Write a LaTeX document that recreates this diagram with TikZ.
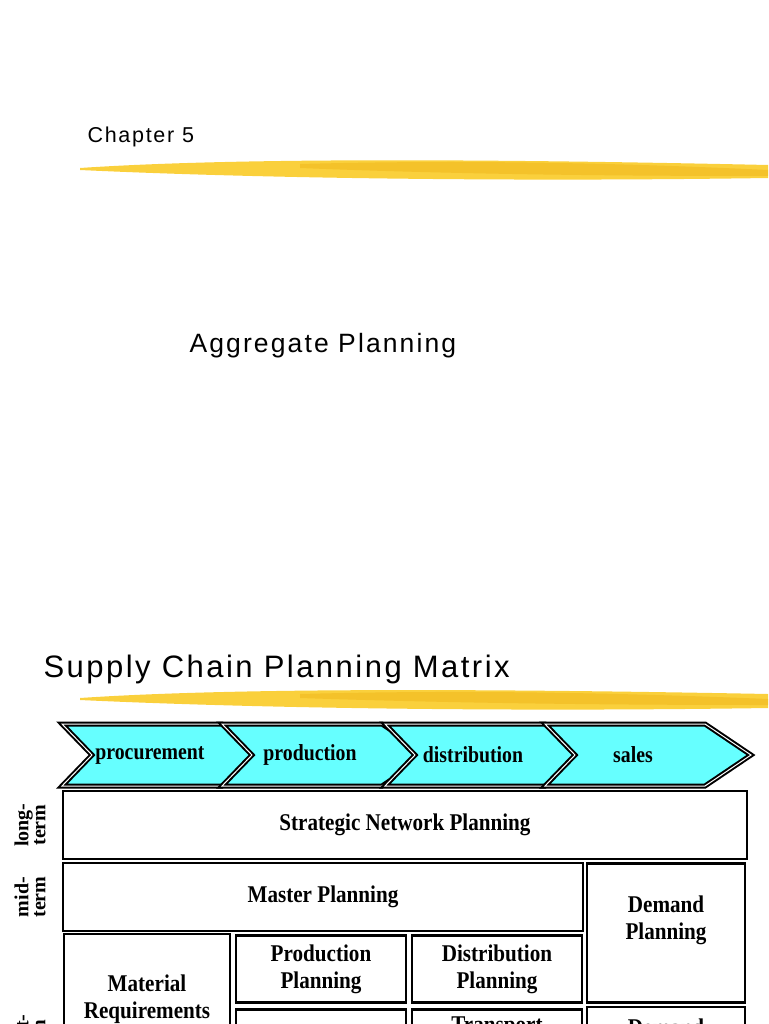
\documentclass[tikz,border=0pt]{standalone}
\usepackage{fontspec}
\setmainfont{Liberation Serif}
\newfontfamily\ttl[LetterSpace=8]{Liberation Sans}
\definecolor{chevc}{RGB}{102,255,255}
\definecolor{gold}{RGB}{250,208,60}
\definecolor{gold2}{RGB}{240,185,30}
\begin{document}
\begin{tikzpicture}[x=1pt,y=-1pt,
 box/.style={draw,line width=2.2pt,font=\bfseries\fontsize{24}{27}\selectfont,align=center,xscale=0.88},
 chev/.style={draw,line width=2pt,fill=chevc,double=white,double distance=1pt},
 lbl/.style={font=\bfseries\fontsize{20}{17}\selectfont,rotate=90,align=center},
 brush/.style={fill=gold,draw=none}]
\useasboundingbox (0,0) rectangle (768,1024);
\clip (0,0) rectangle (768,1024);
\node[anchor=west,font=\ttl\fontsize{21.5}{21}\selectfont] (ch) at (84,137) {Chapter 5};
\fill[brush] (80,168) .. controls (200,160) and (400,157) .. (768,165) -- (768,178) .. controls (500,182) and (250,178) .. (80,170) -- cycle;
\fill[gold2,opacity=.6] (300,164) .. controls (450,160) and (600,162) .. (768,170) -- (768,176) .. controls (600,176) and (450,174) .. (300,168) -- cycle;
\node[anchor=west,font=\ttl\fontsize{26.5}{26}\selectfont] (ap) at (186,346) {Aggregate Planning};
\node[anchor=west,font=\ttl\fontsize{31}{31}\selectfont] (sc) at (40,669) {Supply Chain Planning Matrix};
\fill[brush] (80,698) .. controls (200,690) and (400,687) .. (768,694) -- (768,708) .. controls (500,712) and (250,708) .. (80,700) -- cycle;
\fill[gold2,opacity=.6] (300,694) .. controls (450,690) and (600,692) .. (768,699) -- (768,705) .. controls (600,705) and (450,703) .. (300,698) -- cycle;
% chevrons
\foreach \x in {62,222,385,545}{
 \filldraw[chev] (\x,724) -- (\x+160,724) -- (\x+206,755) -- (\x+160,786) -- (\x,786) -- (\x+30,755) -- cycle;
}
\foreach \x/\t/\n in {62/procurement/c1,222/production/c2,385/distribution/c3,545/sales/c4}{
 \node[font=\bfseries\fontsize{23}{23}\selectfont,xscale=0.86] (\n) at (\x+88,755) {\t};
}
\node[box,minimum width=777pt,minimum height=68pt] (snp) at (405,825) {Strategic Network Planning};
\node[box,minimum width=591pt,minimum height=68pt] (mp) at (323,897) {Master Planning};
\node[box,minimum width=180pt,minimum height=139pt,text depth=30pt] (dp) at (666,933) {Demand\\Planning};
\node[box,minimum width=189pt,minimum height=160pt,text depth=8pt] (mrp) at (147,1014) {Material\\Requirements\\Planning};
\node[box,minimum width=194pt,minimum height=67pt] (pp) at (321,969) {Production\\Planning};
\node[box,minimum width=193pt,minimum height=67pt] (dip) at (497,969) {Distribution\\Planning};
\node[box,minimum width=194pt,minimum height=67pt] (sch) at (321,1043) {Scheduling};
\node[box,minimum width=193pt,minimum height=67pt,text depth=10pt] (tp) at (497,1043) {Transport\\Planning};
\node[box,minimum width=180pt,minimum height=67pt,anchor=north] (df) at (666,1006) {Demand\\Fulfilment};
\node[lbl] (lt) at (30,825) {long-\\term};
\node[lbl] (mt) at (30,897) {mid-\\term};
\node[lbl] (st) at (30,1040) {short-\\term};
\end{tikzpicture}
\end{document}
